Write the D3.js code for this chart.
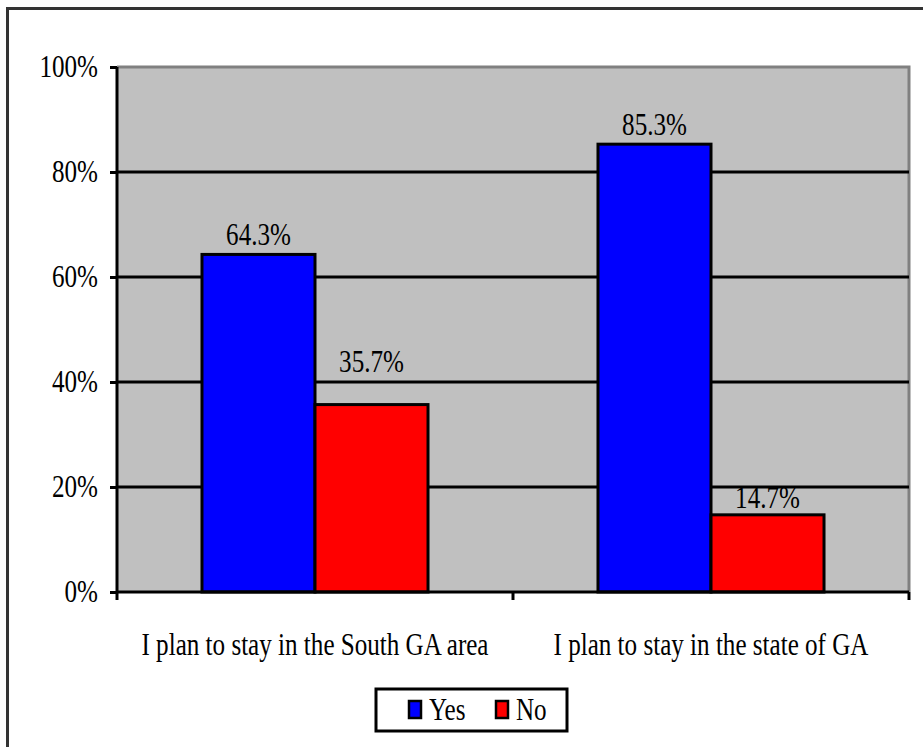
<!DOCTYPE html>
<html><head><meta charset="utf-8">
<script src="https://cdn.jsdelivr.net/npm/d3@7"></script>
<style>body{margin:0;background:#fff}svg{display:block}</style>
</head><body>
<script>
const categories = ["I plan to stay in the South GA area", "I plan to stay in the state of GA"];
const seriesNames = ["Yes", "No"];
const yesValues = [64.3, 85.3];
const noValues = [35.7, 14.7];
const yTicks = [0, 20, 40, 60, 80, 100];
const colors = {Yes: "#0000FF", No: "#FF0000"};

const W = 923, H = 747;
const FS = 31, SX = 0.81;
const FONT = "'Liberation Serif', 'Times New Roman', 'DejaVu Serif', serif";
const svg = d3.select("body").append("svg").attr("width", W).attr("height", H);

svg.append("rect").attr("x", 7.5).attr("y", 8.5).attr("width", 930).attr("height", 760)
  .attr("fill", "#fff").attr("stroke", "#333").attr("stroke-width", 3);

const L = 117, R = 909, T = 67, B = 592;
const y = d3.scaleLinear().domain([0, 100]).range([B, T]);
const x0 = d3.scaleBand().domain(categories).range([L, R]).paddingInner(0).paddingOuter(0);
const x1 = d3.scaleBand().domain(seriesNames).range([0, x0.bandwidth()]).paddingInner(0).paddingOuter(0.752);

svg.append("rect").attr("x", L).attr("y", T).attr("width", R - L).attr("height", B - T).attr("fill", "#C0C0C0");
svg.append("path").attr("d", `M${L},${T}H${R}V${B}`).attr("fill", "none").attr("stroke", "#808080").attr("stroke-width", 3);

svg.append("g").selectAll("line").data(yTicks.filter(d => d > 0 && d < 100)).join("line")
  .attr("x1", L).attr("x2", R).attr("y1", d => y(d)).attr("y2", d => y(d))
  .attr("stroke", "#000").attr("stroke-width", 3);

function sText(g, xx, yy, str, anchor) {
  return g.append("text").attr("transform", `translate(${xx},${yy}) scale(${SX},1)`)
    .attr("text-anchor", anchor).attr("font-size", FS).attr("font-family", FONT)
    .attr("fill", "#000").text(str);
}

// label offsets above bar tops (Yes, No per category)
const labelGap = [[9, 33], [9, 7]];
const data = categories.map((c, i) => ({cat: c, values: [{s: "Yes", v: yesValues[i]}, {s: "No", v: noValues[i]}]}));
const gb = svg.append("g");
data.forEach((d, i) => {
  d.values.forEach((e, j) => {
    const bx = x0(d.cat) + x1(e.s);
    gb.append("rect").attr("x", bx).attr("y", y(e.v)).attr("width", x1.bandwidth()).attr("height", B - y(e.v))
      .attr("fill", colors[e.s]).attr("stroke", "#000").attr("stroke-width", 3);
    sText(gb, bx + x1.bandwidth() / 2, y(e.v) - labelGap[i][j], e.v.toFixed(1) + "%", "middle");
  });
});

const yAxis = d3.axisLeft(y).tickValues(yTicks).tickSize(7).tickFormat(d => d + "%");
const ga = svg.append("g").attr("transform", `translate(${L},0)`).call(yAxis);
ga.select(".domain").attr("stroke", "#000").attr("stroke-width", 3).attr("d", `M0,${T}V${B}`);
ga.selectAll(".tick line").attr("stroke", "#000").attr("stroke-width", 3);
ga.selectAll(".tick text").remove();
yTicks.forEach(t => sText(svg, 98, y(t) + 10, t + "%", "end"));

const xAxis = d3.axisBottom(x0).tickSize(0);
const gx = svg.append("g").attr("transform", `translate(0,${B})`).call(xAxis);
gx.select(".domain").attr("stroke", "#000").attr("stroke-width", 3).attr("d", `M${L},0H${R}`);
gx.selectAll(".tick").remove();
[L, (L + R) / 2, R].forEach(xx => svg.append("line").attr("x1", xx).attr("x2", xx).attr("y1", B).attr("y2", B + 8)
  .attr("stroke", "#000").attr("stroke-width", 3));
categories.forEach(c => sText(svg, x0(c) + x0.bandwidth() / 2, 655, c, "middle"));

const lg = svg.append("g");
lg.append("rect").attr("x", 376).attr("y", 689).attr("width", 191).attr("height", 42)
  .attr("fill", "#fff").attr("stroke", "#000").attr("stroke-width", 3);
const legX = [409, 496];
seriesNames.forEach((s, i) => {
  lg.append("rect").attr("x", legX[i]).attr("y", 701).attr("width", 12).attr("height", 17)
    .attr("fill", colors[s]).attr("stroke", "#000").attr("stroke-width", 2.5);
  sText(lg, legX[i] + 20, 720, s, "start");
});
</script>
</body></html>
